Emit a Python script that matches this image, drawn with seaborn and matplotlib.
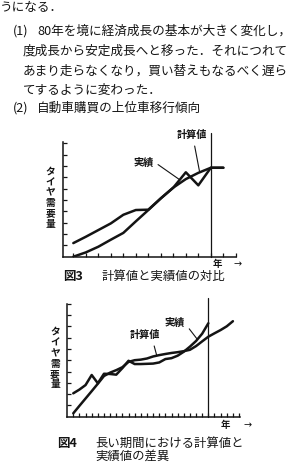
import matplotlib
matplotlib.use("Agg")
import matplotlib.pyplot as plt
import seaborn as sns
import pandas as pd

sns.set_style("white")
plt.rcParams['font.family'] = ['Noto Sans CJK JP', 'DejaVu Sans']

# ---------------- data ----------------
body_lines = [
    "うになる．",
    "(1)",
    "80年を境に経済成長の基本が大きく変化し，",
    "度成長から安定成長へと移った．それにつれて",
    "あまり走らなくなり，買い替えもなるべく遅ら",
    "てするように変わった．",
    "(2)",
    "自動車購買の上位車移行傾向",
]

ylabel_chars = ["タ", "イ", "ヤ", "需", "要", "量"]
label_calc = "計算値"
label_actual = "実績"
year_label = "年"

# Fig. 3 : computed vs actual
fig3_years = list(range(13))
fig3_actual = [1.2, 1.76, 2.35, 2.94, 3.7, 4.12, 4.15, 5.15, 6.1, 7.45, 6.3, 7.85, 7.85]
fig3_calc = [0.0, 0.38, 0.88, 1.5, 2.1, 3.12, 4.12, 5.15, 6.1, 6.85, 7.4, 7.85, 7.85]
fig3_now = 11
fig3_caption_no = "図3"
fig3_caption = "計算値と実績値の対比"

# Fig. 4 : long period
fig4_years_calc = list(range(27))
fig4_calc = [0.3, 0.96, 1.61, 2.26, 2.92, 3.6, 3.9, 4.12, 4.38, 4.85, 5.0, 5.05,
             5.15, 5.33, 5.45, 5.55, 5.64, 5.71, 5.8, 5.92, 6.25, 6.67, 7.08,
             7.38, 7.67, 8.0, 8.45]
fig4_years_actual = list(range(23))
fig4_actual = [2.07, 2.4, 2.8, 3.69, 2.96, 3.8, 3.78, 3.72, 4.3, 4.95, 4.66, 4.66,
               4.68, 4.7, 4.8, 5.1, 5.18, 5.4, 5.75, 6.2, 6.7, 7.35, 8.27]
fig4_now = 22
fig4_caption_no = "図4"
fig4_caption = ["長い期間における計算値と", "実績値の差異"]

# ---------------- layout helpers ----------------
W, H = 292, 467
INK = "#141414"


def P(x, y):
    return (x / W, 1 - y / H)


fig = plt.figure(figsize=(W / 100, H / 100), dpi=100)
fig.patch.set_facecolor("white")

# body text
body_pos = [(0, 7.5), (13, 31.5), (37, 31.5), (23, 51.5), (23, 71), (23, 90),
            (13, 108.5), (37, 108.5)]
for txt, (x, y) in zip(body_lines, body_pos):
    fig.text(*P(x, y), txt, fontsize=9.1, ha="left", va="center", color=INK)


def make_axes(left, bottom, xlim, ylim, xscale, yscale):
    width = (xlim[1] - xlim[0]) * xscale
    height = (ylim[1] - ylim[0]) * yscale
    ax = fig.add_axes([left / W, 1 - bottom / H, width / W, height / H])
    ax.set_xlim(*xlim)
    ax.set_ylim(*ylim)
    for s in ["top", "right"]:
        ax.spines[s].set_visible(False)
    for s in ["left", "bottom"]:
        ax.spines[s].set_color(INK)
        ax.spines[s].set_linewidth(1.1)
    ax.set_facecolor("none")
    ax.tick_params(direction="in", length=3, width=0.9, color=INK,
                   bottom=True, left=True, labelbottom=False, labelleft=False)
    ax.set_xlabel("")
    ax.set_ylabel("")
    return ax


# ---------------- Fig. 3 ----------------
ax3 = make_axes(62.7, 256.7, (-0.85, 13.0), (0, 10.15), 12.5, 11.33)
df3 = pd.DataFrame({"year": fig3_years * 2,
                    "value": fig3_actual + fig3_calc,
                    "series": [label_actual] * len(fig3_years) + [label_calc] * len(fig3_years)})
sns.lineplot(data=df3, x="year", y="value", units="series", estimator=None,
             sort=False, color=INK, lw=1.8, ax=ax3, legend=False)
ax3.set_xticks(range(0, 14))
ax3.set_yticks(range(1, 11))
ax3.set_xlabel("")
ax3.set_ylabel("")
ax3.axvline(fig3_now, ymin=0, ymax=10.9 / 10.15, color=INK, lw=0.9, clip_on=False)
ax3.annotate(label_actual, xy=(8.5, 6.8), xytext=P(143.5, 162.5),
             textcoords="figure fraction", ha="center", va="center",
             fontsize=7.3, fontweight="bold", color=INK,
             arrowprops=dict(arrowstyle="-", color=INK, lw=0.8, shrinkA=1, shrinkB=0,
                             relpos=(1.0, 0.6)))
ax3.annotate(label_calc, xy=(10.1, 7.5), xytext=P(192, 135),
             textcoords="figure fraction", ha="center", va="center",
             fontsize=7.3, fontweight="bold", color=INK,
             arrowprops=dict(arrowstyle="-", color=INK, lw=0.8, shrinkA=2, shrinkB=0,
                             relpos=(0.55, 0.0)))
for i, ch in enumerate(ylabel_chars):
    fig.text(*P(50, 172 + 10.3 * i), ch, fontsize=7, fontweight="bold",
             ha="center", va="center", color=INK)
fig.text(*P(217, 264), year_label, fontsize=6.8, fontweight="bold",
         ha="center", va="center", color=INK)
fig.text(*P(238, 264.5), "→", fontsize=7, ha="center", va="center", color=INK,
         family="DejaVu Sans")
fig.text(*P(63, 276.5), fig3_caption_no, fontsize=9, fontweight="bold",
         ha="left", va="center", color=INK)
fig.text(*P(101.5, 276.5), fig3_caption, fontsize=8.9,
         ha="left", va="center", color=INK)

# ---------------- Fig. 4 ----------------
ax4 = make_axes(66.7, 416.7, (-1.07, 27.15), (0, 10.0), 6.14, 11.3)
df4 = pd.DataFrame({"year": fig4_years_actual + fig4_years_calc,
                    "value": fig4_actual + fig4_calc,
                    "series": [label_actual] * len(fig4_years_actual)
                    + [label_calc] * len(fig4_years_calc)})
sns.lineplot(data=df4, x="year", y="value", units="series", estimator=None,
             sort=False, color=INK, lw=1.8, ax=ax4, legend=False)
ax4.set_xticks(range(0, 28))
ax4.set_yticks(range(1, 11))
ax4.set_xlabel("")
ax4.set_ylabel("")
ax4.axvline(fig4_now, ymin=0, ymax=10.5 / 10.0, color=INK, lw=0.9, clip_on=False)
ax4.annotate(label_actual, xy=(20.2, 6.85), xytext=P(175, 322.5),
             textcoords="figure fraction", ha="center", va="center",
             fontsize=7.3, fontweight="bold", color=INK,
             arrowprops=dict(arrowstyle="-", color=INK, lw=0.8, shrinkA=1, shrinkB=0,
                             relpos=(1.0, 0.4)))
ax4.annotate(label_calc, xy=(13.6, 5.4), xytext=P(145, 335),
             textcoords="figure fraction", ha="center", va="center",
             fontsize=7.3, fontweight="bold", color=INK,
             arrowprops=dict(arrowstyle="-", color=INK, lw=0.8, shrinkA=2, shrinkB=0,
                             relpos=(0.75, 0.0)))
for i, ch in enumerate(ylabel_chars):
    fig.text(*P(55, 332 + 10.5 * i), ch, fontsize=7, fontweight="bold",
             ha="center", va="center", color=INK)
fig.text(*P(225, 425), year_label, fontsize=6.8, fontweight="bold",
         ha="center", va="center", color=INK)
fig.text(*P(248, 425.5), "→", fontsize=7, ha="center", va="center", color=INK,
         family="DejaVu Sans")
fig.text(*P(57, 443.5), fig4_caption_no, fontsize=9, fontweight="bold",
         ha="left", va="center", color=INK)
fig.text(*P(95, 443.5), fig4_caption[0], fontsize=8.9,
         ha="left", va="center", color=INK)
fig.text(*P(95, 456.5), fig4_caption[1], fontsize=8.9,
         ha="left", va="center", color=INK)

fig.savefig("out.png", dpi=100, facecolor="white")
